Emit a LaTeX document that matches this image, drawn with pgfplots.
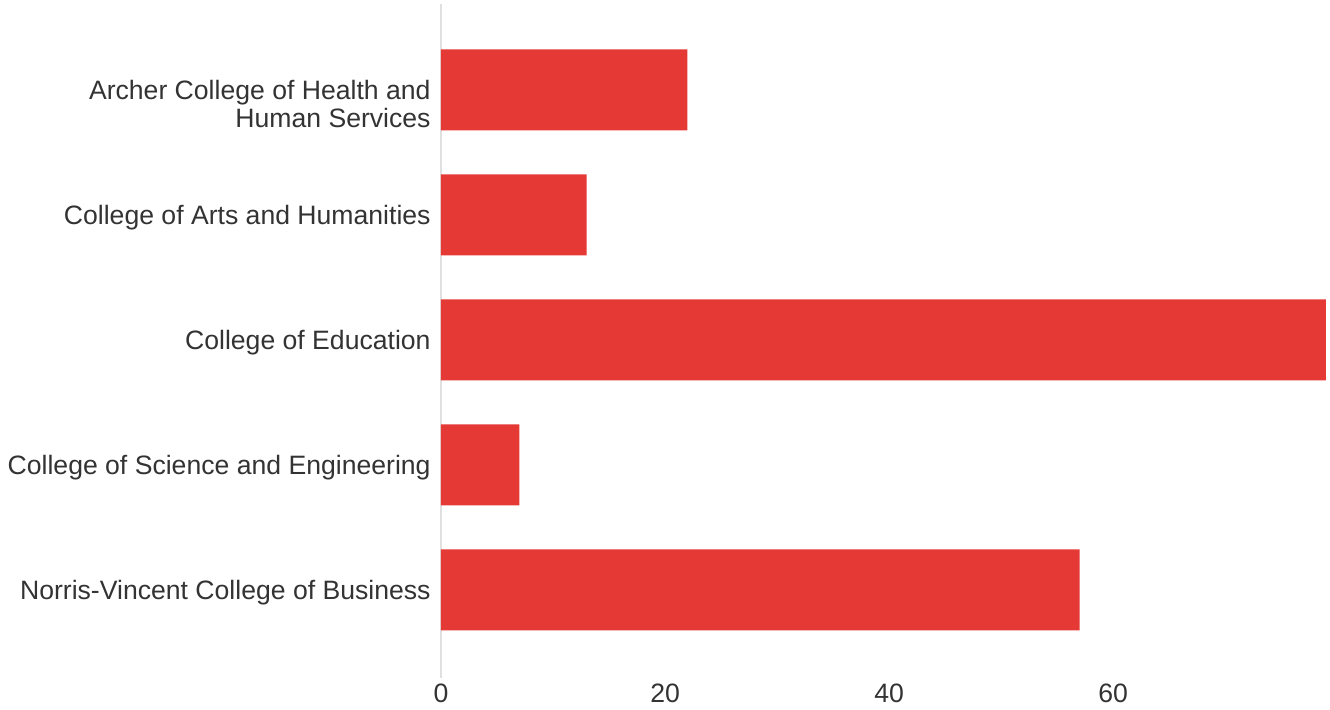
\documentclass[border=0pt]{standalone}
\usepackage{pgfplots}
\pgfplotsset{compat=1.18}
\usepackage{fontspec}
\setmainfont{Liberation Sans}
\definecolor{barred}{HTML}{E53935}
\definecolor{axgray}{HTML}{E0E0E0}
\definecolor{txt}{HTML}{333333}
\begin{document}
\fontsize{13.3}{14}\selectfont
\begin{tikzpicture}
\useasboundingbox (0,0) rectangle (665pt,355pt);
\begin{axis}[
  at={(220.5pt,16pt)}, anchor=south west,
  scale only axis, width=442.5pt, height=337pt,
  xbar, bar width=40.5pt, bar shift=0pt,
  xmin=0, xmax=79, ymin=-0.688, ymax=4.704,
  y dir=reverse,
  axis lines*=left,
  x axis line style={draw=none},
  y axis line style={draw=axgray, line width=1pt},
  major tick length=0pt,
  xtick={0,20,40,60},
  ytick={0,1,2,3,4},
  yticklabels={
    {\begin{tabular}[t]{@{}r@{}}Archer College of Health and\\Human Services\end{tabular}},
    College of Arts and Humanities,
    College of Education,
    College of Science and Engineering,
    Norris-Vincent College of Business},
  /pgf/number format/assume math mode=true,
  tick label style={font=\fontsize{13.3}{14}\selectfont, text=txt},
  xticklabel style={anchor=base, inner sep=0pt, yshift=-12.5pt},
  yticklabel style={anchor=base east, inner sep=0pt, xshift=-5pt, yshift=-4.8pt},
  clip=false,
]
\addplot[draw=none, fill=barred] coordinates {
  (22,0) (13,1) (79,2) (7,3) (57,4)
};
\end{axis}
\end{tikzpicture}
\end{document}
